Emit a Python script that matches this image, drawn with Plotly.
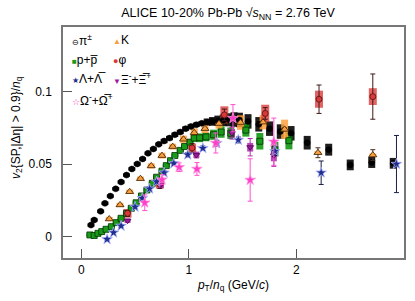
import plotly.graph_objects as go

# ---------------- data ----------------
pi_x = [0.09, 0.12, 0.18, 0.22, 0.27, 0.32, 0.37, 0.42, 0.47, 0.52, 0.57, 0.62, 0.67, 0.72, 0.77,
        0.82, 0.87, 0.92, 0.97, 1.02, 1.07, 1.12, 1.17, 1.22, 1.27, 1.32, 1.37, 1.42, 1.47, 1.55,
        1.65, 1.75, 1.85, 1.95, 2.10, 2.30, 2.50, 2.70, 2.90]
pi_y = [0.0080, 0.0115, 0.0175, 0.0230, 0.0280, 0.0330, 0.0377, 0.0425, 0.0467, 0.0502, 0.0536,
        0.0575, 0.0605, 0.0637, 0.0660, 0.0680, 0.0703, 0.0722, 0.0745, 0.0760, 0.0772, 0.0782,
        0.0790, 0.0795, 0.0800, 0.0803, 0.0806, 0.0808, 0.0805, 0.0795, 0.0775, 0.0745, 0.0725,
        0.0713, 0.0648, 0.0600, 0.0495, 0.0512, 0.0506]
pi_sys = [0.0012] * 14 + [0.0015] * 8 + [0.0025, 0.003, 0.0035, 0.004, 0.0045, 0.005, 0.005, 0.005,
                                         0.005, 0.005, 0.005, 0.005, 0.0047, 0.0041, 0.0037, 0.0038, 0.0037]
pi_stat = [0.0003] * 34 + [0.0006, 0.0008, 0.001, 0.0012, 0.0015]

k_x = [0.26, 0.36, 0.45, 0.55, 0.65, 0.75, 0.85, 0.95, 1.05, 1.15, 1.28, 1.48, 1.69, 1.89, 2.20, 2.71]
k_y = [0.0122, 0.0219, 0.0310, 0.0400, 0.0488, 0.0559, 0.0621, 0.0672, 0.0717, 0.0745, 0.0780,
       0.0787, 0.0790, 0.0740, 0.0579, 0.0563]
k_sys = [0.0015, 0.0015, 0.0015, 0.0015, 0.0018, 0.002, 0.002, 0.0025, 0.003, 0.003, 0.0035,
         0.005, 0.005, 0.0067, 0.001, 0.001]
k_stat = [0.0003] * 12 + [0.0008, 0.001, 0.0034, 0.0037]

p_x = [0.08, 0.12, 0.155, 0.19, 0.23, 0.28, 0.325, 0.37, 0.42, 0.465, 0.51, 0.56, 0.61, 0.66, 0.70,
       0.75, 0.79, 0.83, 0.87, 0.92, 0.96, 1.01, 1.05, 1.10, 1.16, 1.23, 1.30, 1.39, 1.53, 1.66, 1.80, 1.93]
p_y = [0.0012, 0.0008, 0.0023, 0.0035, 0.0051, 0.0069, 0.0097, 0.0127, 0.0161, 0.0196, 0.0234,
       0.0281, 0.0322, 0.0368, 0.0410, 0.0452, 0.0490, 0.0524, 0.0560, 0.0595, 0.0622, 0.0652,
       0.0680, 0.0682, 0.0688, 0.0703, 0.0722, 0.0713, 0.0735, 0.0658, 0.0603, 0.0662]
p_sys = [0.001] * 20 + [0.0015, 0.002, 0.0025, 0.003, 0.003, 0.0035, 0.004, 0.004, 0.0045,
                        0.0057, 0.005, 0.006]
p_stat = [0.0003] * 28 + [0.0008, 0.0012, 0.0015, 0.0015]

phi_x = [0.43, 0.73, 1.03, 1.33, 1.71, 2.21, 2.71]
phi_y = [0.0161, 0.0362, 0.0612, 0.0840, 0.0850, 0.0948, 0.0966]
phi_sys = [0.003, 0.003, 0.003, 0.0059, 0.006, 0.0059, 0.0058]
phi_stat = [0.002, 0.003, 0.003, 0.004, 0.004, 0.0098, 0.0156]

lam_x = [0.24, 0.30, 0.37, 0.50, 0.567, 0.635, 0.70, 0.77, 0.86, 0.99, 1.13, 1.26, 1.46, 1.80, 2.23, 2.93]
lam_y = [-0.0018, 0.0028, 0.0074, 0.0205, 0.0265, 0.0330, 0.0379, 0.0441, 0.0505, 0.0565, 0.0610,
         0.0645, 0.0667, 0.0590, 0.0441, 0.0501]
lam_stat = [0.001, 0.001, 0.001, 0.001, 0.0012, 0.0012, 0.0012, 0.0013, 0.0013, 0.0015, 0.0015,
            0.002, 0.002, 0.003, 0.0081, 0.0197]

xi_x = [0.43, 0.74, 1.07, 1.40, 1.57, 1.79]
xi_y = [0.0110, 0.0360, 0.0563, 0.0713, 0.0617, 0.0560]
xi_sys = [0.0015, 0.002, 0.002, 0.003, 0.003, 0.004]
xi_stat = [0.001, 0.002, 0.002, 0.004, 0.006, 0.0075]

om_x = [0.59, 0.75, 0.91, 1.075, 1.25, 1.41, 1.57, 1.79]
om_y = [0.0234, 0.0393, 0.0479, 0.0467, 0.0646, 0.0817, 0.0391, 0.0655]
om_stat = [0.0054, 0.0034, 0.003, 0.0044, 0.0069, 0.0094, 0.0146, 0.0163]

x_ticks = [0, 1, 2]
y_ticks = [0, 0.05, 0.1]
y_ticktext = ["0", "0.05", "0.1"]

FONT = "Liberation Sans, Arial, Helvetica, sans-serif"

fig = go.Figure()


def sys_trace(x, y, err, color, w=7):
    fig.add_trace(go.Scatter(
        x=x, y=y, mode="markers", showlegend=False, hoverinfo="skip",
        marker=dict(size=1, opacity=0),
        error_y=dict(type="data", array=err, visible=True, color=color, thickness=w, width=0)))


def pts_trace(x, y, stat, symbol, fill, line, size, ecolor, name, lw=0.8):
    fig.add_trace(go.Scatter(
        x=x, y=y, mode="markers", name=name, showlegend=False,
        marker=dict(symbol=symbol, color=fill, size=size, line=dict(color=line, width=lw)),
        error_y=dict(type="data", array=stat, visible=True, color=ecolor, thickness=1, width=2.5)))


# systematic boxes
sys_trace(pi_x, pi_y, pi_sys, "rgba(10,10,10,0.92)", 7)
sys_trace(p_x, p_y, p_sys, "rgba(20,150,20,0.9)", 7)
sys_trace(k_x, k_y, k_sys, "rgba(255,160,60,0.85)", 7)
sys_trace(phi_x, phi_y, phi_sys, "rgba(220,60,60,0.8)", 8)
sys_trace(xi_x, xi_y, xi_sys, "rgba(160,30,160,0.8)", 6)

# points with statistical errors
pts_trace(pi_x, pi_y, pi_stat, "circle", "#000000", "#000000", 6, "#000000", "π±", 0.5)
pts_trace(p_x, p_y, p_stat, "square", "#1a9a1a", "#003300", 6, "#1a9a1a", "p+p̅")
pts_trace(k_x, k_y, k_stat, "triangle-up", "#f7a040", "#402000", 7, "#4a3020", "K")
pts_trace(phi_x, phi_y, phi_stat, "circle", "#d83a3a", "#501010", 6, "#401818", "φ")
pts_trace(xi_x, xi_y, xi_stat, "triangle-down", "#9a1a9a", "#500050", 6, "#b030b0", "Ξ")
pts_trace(lam_x, lam_y, lam_stat, "star", "#1f2d8f", "#b0b8ff", 8, "#1a1f4a", "Λ")
pts_trace(om_x, om_y, om_stat, "star", "#ff3ec8", "#ff90e0", 8, "#ff50d0", "Ω")

# legend (text annotations with symbol glyphs)
leg = [
    (0.020, 0.943, "<span style='font-size:8px'>⊖</span>π<sup>±</sup>"),
    (0.142, 0.943, "<span style='color:#f7a040;font-size:8px'>▲</span>K"),
    (0.020, 0.856, "<span style='color:#1a9a1a;font-size:8px'>■</span>p+p̅"),
    (0.142, 0.856, "<span style='color:#d83a3a;font-size:9px'>●</span>φ"),
    (0.020, 0.774, "<span style='color:#1f2d8f;font-size:8px'>★</span>Λ+Λ̅"),
    (0.142, 0.774, "<span style='color:#9a1a9a;font-size:8px'>▼</span>Ξ<sup>-</sup>+Ξ̅<sup>+</sup>"),
    (0.020, 0.683, "<span style='color:#ff3ec8;font-size:9px'>☆</span>Ω<sup>-</sup>+Ω̅<sup>+</sup>"),
]
for lx, ly, txt in leg:
    fig.add_annotation(x=lx, y=ly, xref="paper", yref="paper", text=txt, showarrow=False,
                       xanchor="left", yanchor="middle", font=dict(size=12, color="#000", family=FONT))

# y-axis title
fig.add_annotation(x=-0.135, y=0.567, xref="paper", yref="paper", textangle=-90, showarrow=False,
                   xanchor="center", yanchor="middle",
                   text="<i>v</i><sub>2</sub>{SP,|Δη| > 0.9}/<i>n</i><sub>q</sub>",
                   font=dict(size=12, color="#000", family=FONT))

fig.update_layout(
    width=415, height=301,
    margin=dict(l=63, r=11, t=27, b=43, autoexpand=False),
    paper_bgcolor="white", plot_bgcolor="white",
    font=dict(family=FONT, size=12, color="#000"),
    title=dict(text="ALICE 10-20% Pb-Pb √<i>s</i><sub>NN</sub> = 2.76 TeV",
               x=0.484, xref="paper", xanchor="center", y=0.957, yref="container",
               yanchor="middle", font=dict(size=12.5, family=FONT)),
    showlegend=False,
)
fig.update_xaxes(range=[-0.17, 3.0], tickvals=x_ticks, ticktext=[str(v) for v in x_ticks],
                 ticks="inside", ticklen=9, tickcolor="#555", showgrid=False, zeroline=False,
                 showline=True, linecolor="#777", linewidth=1.5, mirror=True, automargin=False,
                 tickfont=dict(size=12),
                 title=dict(text="<i>p</i><sub>T</sub>/<i>n</i><sub>q</sub> (GeV/<i>c</i>)",
                            standoff=4, font=dict(size=12)))
fig.update_yaxes(range=[-0.0147, 0.1446], tickvals=y_ticks, ticktext=y_ticktext,
                 ticks="inside", ticklen=9, tickcolor="#555", showgrid=False, zeroline=False,
                 showline=True, linecolor="#777", linewidth=1.5, mirror=True, automargin=False,
                 ticklabelstandoff=7, tickfont=dict(size=12))

fig.write_html("out.html", config={"displayModeBar": False},
               post_script="document.body.style.margin='0';")
